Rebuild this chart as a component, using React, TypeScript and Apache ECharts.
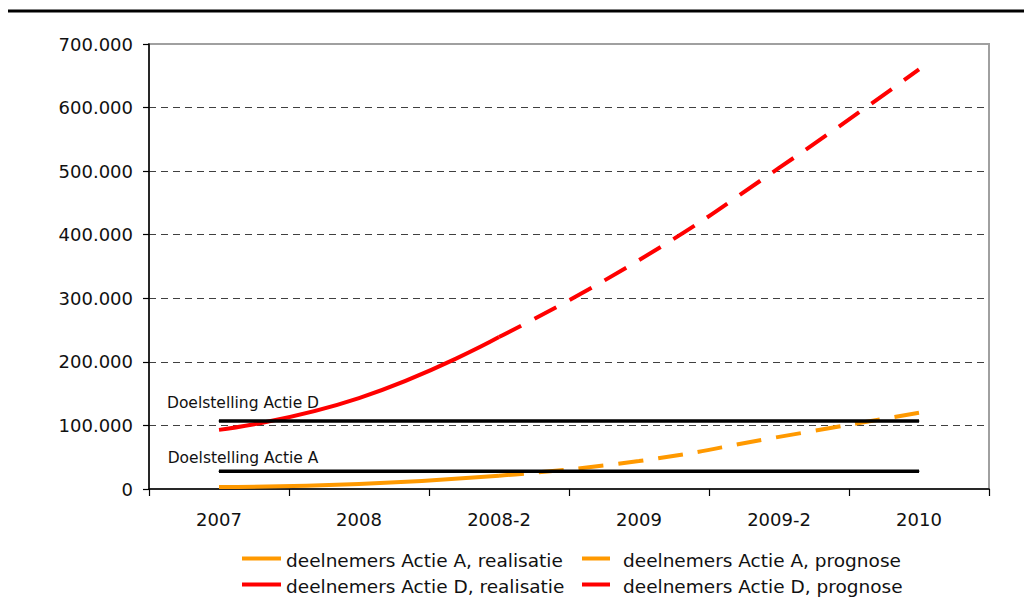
import React, { useEffect, useRef } from 'react';
import * as echarts from 'echarts';

const categories = ['2007', '2008', '2008-2', '2009', '2009-2', '2010'];
const actieARealisatie = [3000, 8000, 21000, null, null, null];
const actieAPrognose = [null, null, 21000, 44000, 82000, 120000];
const actieDRealisatie = [93000, 143000, 239000, null, null, null];
const actieDPrognose = [null, null, 239000, 360000, 505000, 660000];
const doelstellingA = [28000, 28000, 28000, 28000, 28000, 28000];
const doelstellingD = [107000, 107000, 107000, 107000, 107000, 107000];
const yMin = 0;
const yMax = 700000;
const yInterval = 100000;

const FONT = 'DejaVu Sans';
const ORANGE = '#FF9900';
const RED = '#FF0000';

const fmt = (v: number) => String(v).replace(/\B(?=(\d{3})+(?!\d))/g, '.');

export default function App() {
  const ref = useRef<HTMLDivElement>(null);
  useEffect(() => {
    if (!ref.current) return;
    const chart = echarts.init(ref.current, null, { renderer: 'svg' });
    const real = (name: string, color: string, data: any[]) => ({
      name,
      type: 'line',
      data,
      smooth: 0.5,
      symbol: 'none',
      connectNulls: false,
      color,
      itemStyle: { color },
      lineStyle: { color, width: 4, cap: 'butt' },
      z: 2,
    });
    const prog = (name: string, color: string, data: any[]) => ({
      name,
      type: 'line',
      data,
      smooth: 0.5,
      symbol: 'none',
      color,
      itemStyle: { color },
      lineStyle: { color, width: 4, type: [25, 15], cap: 'butt' },
      z: 2,
    });
    const goal = (name: string, data: number[], dist: number) => ({
      name,
      type: 'line',
      data: data.map((v, i) =>
        i === 0
          ? {
              value: v,
              label: {
                show: true,
                position: 'top',
                distance: dist,
                offset: [24, 0],
                formatter: name,
                fontFamily: FONT,
                fontSize: 15.5,
                color: '#111',
              },
            }
          : v
      ),
      symbol: 'circle',
      symbolSize: 1,
      showSymbol: true,
      itemStyle: { color: '#000' },
      lineStyle: { color: '#000', width: 3.5, cap: 'butt' },
      label: { show: false },
      z: 3,
      silent: true,
    });
    const legendBase = {
      orient: 'vertical',
      top: 550.5,
      height: 60,
      padding: 0,
      itemHeight: 8,
      itemGap: 6,
      itemStyle: { borderWidth: 0 },
      textStyle: { fontFamily: FONT, fontSize: 18.5, color: '#111', lineHeight: 20 },
      selectedMode: false,
    };
    chart.setOption({
      animation: false,
      grid: {
        left: 149,
        right: 35,
        top: 44,
        bottom: 113,
        show: true,
        borderColor: '#a0a0a0',
        borderWidth: 2,
        backgroundColor: 'transparent',
      },
      graphic: [
        {
          type: 'line',
          shape: { x1: 8, y1: 11, x2: 1024, y2: 11 },
          style: { stroke: '#000', lineWidth: 3 },
        },
      ],
      xAxis: {
        type: 'category',
        data: categories,
        boundaryGap: true,
        axisLine: { lineStyle: { color: '#000', width: 1.5 } },
        axisTick: { show: true, length: 7, lineStyle: { color: '#000', width: 1.2 } },
        axisLabel: { fontFamily: FONT, fontSize: 18, color: '#111', margin: 21 },
        splitLine: { show: false },
      },
      yAxis: {
        type: 'value',
        min: yMin,
        max: yMax,
        interval: yInterval,
        axisLine: { show: true, lineStyle: { color: '#000', width: 1.5 } },
        axisTick: { show: true, length: 6, lineStyle: { color: '#000', width: 1.2 } },
        axisLabel: { fontFamily: FONT, fontSize: 18, color: '#111', margin: 16, formatter: fmt },
        splitLine: {
          show: true,
          showMinLine: false,
          showMaxLine: false,
          lineStyle: { color: '#404040', width: 1, type: [7, 5] },
        },
      },
      legend: [
        {
          ...legendBase,
          left: 242,
          itemWidth: 39,
          icon: 'path://M0,0H39V4H0Z M0,8L39,8',
          data: ['deelnemers Actie A, realisatie', 'deelnemers Actie D, realisatie'],
        },
        {
          ...legendBase,
          left: 582,
          itemWidth: 36,
          icon: 'path://M0,0H28V4H0Z M36,8L36,7',
          data: ['deelnemers Actie A, prognose', 'deelnemers Actie D, prognose'],
        },
      ],
      series: [
        real('deelnemers Actie A, realisatie', ORANGE, actieARealisatie),
        prog('deelnemers Actie A, prognose', ORANGE, actieAPrognose),
        real('deelnemers Actie D, realisatie', RED, actieDRealisatie),
        prog('deelnemers Actie D, prognose', RED, actieDPrognose),
        goal('Doelstelling Actie D', doelstellingD, 9),
        goal('Doelstelling Actie A', doelstellingA, 5),
      ],
    });
    return () => chart.dispose();
  }, []);
  return (
    <div
      ref={ref}
      style={{ position: 'absolute', left: 0, top: 0, width: 1024, height: 602, background: '#fff' }}
    />
  );
}
